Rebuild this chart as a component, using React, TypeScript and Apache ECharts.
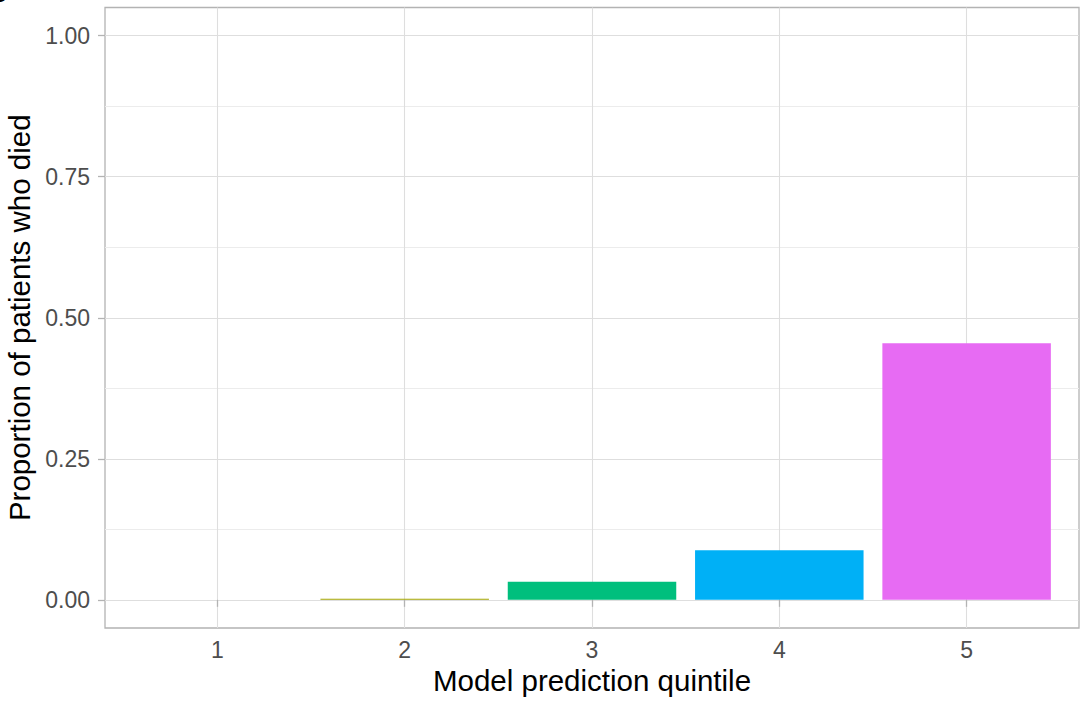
import React, { useEffect, useRef } from "react";
import * as echarts from "echarts";

const quintiles = [1, 2, 3, 4, 5];
const proportions = [0, 0.002, 0.032, 0.088, 0.455];
const barColors = ["#F8766D", "#A3A500", "#00BF7D", "#00B0F6", "#E76BF3"];
const yMajorTicks = [0, 0.25, 0.5, 0.75, 1.0];
const yMinorTicks = [0.125, 0.375, 0.625, 0.875];
const xTitle = "Model prediction quintile";
const yTitle = "Proportion of patients who died";

const FONT = "Liberation Sans, Arial, Helvetica, sans-serif";

export default function App() {
  const ref = useRef<HTMLDivElement>(null);
  useEffect(() => {
    if (!ref.current) return;
    const chart = echarts.init(ref.current, null, { renderer: "svg" });
    chart.setOption({
      animation: false,
      backgroundColor: "#ffffff",
      textStyle: { fontFamily: FONT },
      grid: {
        left: 105,
        top: 7.5,
        right: 4,
        bottom: 74,
        show: true,
        borderColor: "#b3b3b3",
        borderWidth: 1.3,
        backgroundColor: "transparent",
        containLabel: false,
        outerBoundsMode: "none",
      },
      xAxis: {
        type: "value",
        min: 0.4,
        max: 5.6,
        name: xTitle,
        nameLocation: "middle",
        nameGap: 37,
        nameTextStyle: { fontSize: 29.5, color: "#000000", fontFamily: FONT },
        axisLine: { show: false },
        axisTick: {
          show: true,
          length: 7,
          customValues: quintiles,
          lineStyle: { color: "#b3b3b3", width: 1.3 },
        },
        axisLabel: {
          customValues: quintiles,
          fontSize: 23,
          color: "#4d4d4d",
          margin: 10,
          fontFamily: FONT,
          formatter: (v: number) => String(v),
        },
        splitLine: { show: true, lineStyle: { color: "#dedede", width: 1.1 } },
      },
      yAxis: [
        {
          type: "value",
          min: -0.05,
          max: 1.05,
          name: yTitle,
          nameLocation: "middle",
          nameGap: 67,
          nameTextStyle: { fontSize: 29.5, color: "#000000", fontFamily: FONT },
          axisLine: { show: false },
          axisTick: {
            show: true,
            length: 7,
            customValues: yMajorTicks,
            lineStyle: { color: "#b3b3b3", width: 1.3 },
          },
          axisLabel: {
            customValues: yMajorTicks,
            fontSize: 23,
            color: "#4d4d4d",
            margin: 15,
            fontFamily: FONT,
            formatter: (v: number) => v.toFixed(2),
          },
          splitLine: { show: true, lineStyle: { color: "#dedede", width: 1.1 } },
        },
        {
          type: "value",
          min: -0.05,
          max: 1.05,
          position: "left",
          axisLine: { show: false },
          axisTick: { show: false, customValues: yMinorTicks },
          axisLabel: { show: false, customValues: yMinorTicks },
          splitLine: { show: true, lineStyle: { color: "#ececec", width: 1 } },
        },
      ],
      graphic: [
        {
          type: "text",
          left: -13,
          top: -22,
          style: { text: "B", font: "bold 28px Liberation Sans", fill: "#000" },
        },
      ],
      series: [
        {
          type: "bar",
          yAxisIndex: 0,
          barWidth: 168.5,
          z: 3,
          data: quintiles.map((q, i) => ({
            value: [q, proportions[i]],
            itemStyle: { color: barColors[i] },
          })),
        },
      ],
    });
    return () => chart.dispose();
  }, []);
  return (
    <div
      ref={ref}
      style={{ position: "fixed", left: 0, top: 0, width: 1083, height: 702 }}
    />
  );
}
